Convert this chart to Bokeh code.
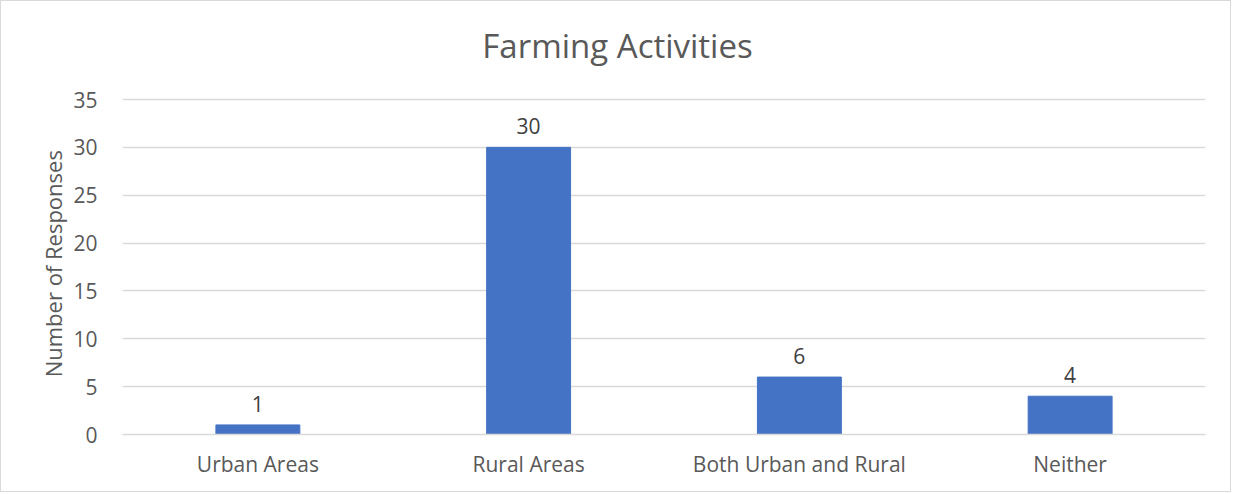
from bokeh.plotting import figure
from bokeh.models import ColumnDataSource, LabelSet, Label, FactorRange, FixedTicker, Range1d
from bokeh.core.properties import value
from bokeh.embed import file_html
from bokeh.resources import INLINE

categories = ["Urban Areas", "Rural Areas", "Both Urban and Rural", "Neither"]
values = [1, 30, 6, 4]
labels = [str(v) for v in values]
y_ticks = [0, 5, 10, 15, 20, 25, 30, 35]
title_text = "Farming Activities"
y_title = "Number of Responses"

src = ColumnDataSource(dict(cat=categories, val=values, lab=labels))

FONT = "Open Sans"
TXT = "#595959"

# frame runs to the top of the canvas so the title can sit inside it;
# the value axis itself stops at 35
p = figure(x_range=FactorRange(*categories, range_padding=0), y_range=Range1d(0, 45.24),
           width=1231, height=492, output_backend="svg", toolbar_location=None,
           min_border_left=121, min_border_right=27,
           min_border_top=0, min_border_bottom=59)
p.styles = {"border": "1px solid #d9d9d9"}
p.outline_line_color = None
p.background_fill_color = "white"
p.border_fill_color = "white"

p.add_layout(Label(x=495, y=389, x_units="screen", y_units="screen", text=title_text,
                   text_align="center", text_baseline="alphabetic", text_font=FONT,
                   text_font_size="33px", text_color=TXT))

p.vbar(x="cat", top="val", width=0.31, source=src, color="#4472C4")

p.add_layout(LabelSet(x="cat", y="val", text="lab", source=src, text_align="center",
                      text_baseline="alphabetic", y_offset=13, text_font=value(FONT),
                      text_font_size="21px", text_color="#404040"))

p.yaxis.ticker = FixedTicker(ticks=y_ticks)
p.yaxis.bounds = (min(y_ticks), max(y_ticks))
p.yaxis.axis_line_color = None
p.yaxis.major_tick_line_color = None
p.yaxis.minor_tick_line_color = None
p.yaxis.major_label_standoff = 19
p.yaxis.major_label_text_font = FONT
p.yaxis.major_label_text_font_size = "21px"
p.yaxis.major_label_text_color = TXT
# non-breaking spaces pad the top end so the visible words centre on the 0-35 span
p.yaxis.axis_label = y_title + "\u00a0" * 16
p.yaxis.axis_label_text_font = FONT
p.yaxis.axis_label_text_font_size = "22px"
p.yaxis.axis_label_text_font_style = "normal"
p.yaxis.axis_label_text_color = TXT
p.yaxis.axis_label_standoff = 2

p.xaxis.axis_line_color = "#d9d9d9"
p.xaxis.axis_line_width = 1.5
p.xaxis.major_tick_line_color = None
p.xaxis.minor_tick_line_color = None
p.xaxis.major_label_standoff = 9
p.xaxis.major_label_text_font = FONT
p.xaxis.major_label_text_font_size = "21px"
p.xaxis.major_label_text_color = TXT

p.xgrid.grid_line_color = None
p.ygrid.grid_line_color = "#d9d9d9"
p.ygrid.grid_line_width = 1.5

open("out.html", "w").write(file_html(p, INLINE))
